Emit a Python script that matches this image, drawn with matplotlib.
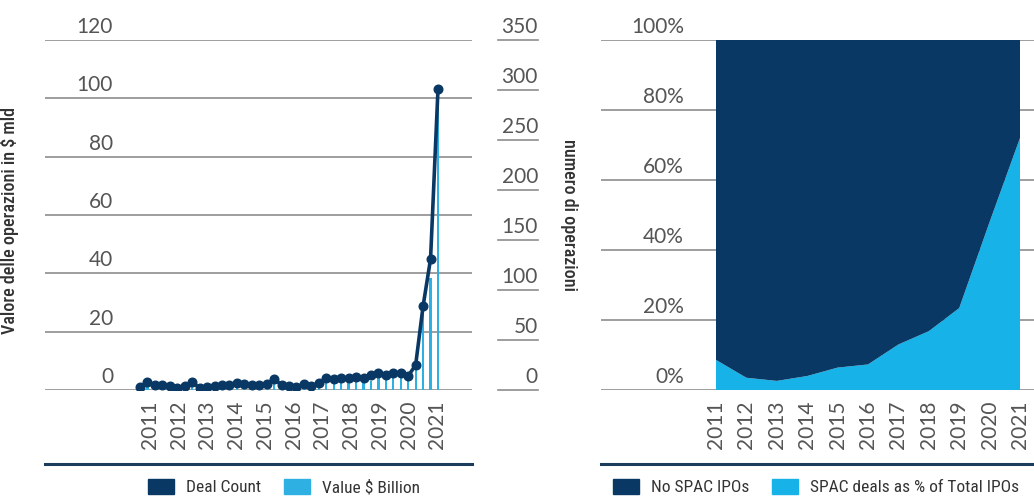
import numpy as np
import matplotlib
matplotlib.use('Agg')
import matplotlib.pyplot as plt
from matplotlib import font_manager as fm
from matplotlib.patches import Patch
from matplotlib.transforms import ScaledTranslation, blended_transform_factory

W, H, DPI = 1034, 499, 100

# ---------------- data ----------------
quarter_idx = np.arange(41)  # Q1 2011 .. Q1 2021
deal_count = [3, 8, 5, 5, 4, 2, 4, 8, 2, 3, 4, 5, 5, 7, 6, 5, 5, 6, 11, 5,
              4, 3, 6, 4, 7, 12, 11, 12, 12, 13, 12, 15, 17, 15, 17, 17,
              14, 25, 84, 131, 301]
value_bn = [0.5, 1.5, 0.5, 0.5, 0.3, 0.2, 0.5, 1.0, 0.3, 0.5, 0.8, 0.8,
            0.7, 1.0, 0.8, 1.0, 1.0, 1.0, 2.5, 1.0, 0.7, 0.5, 1.0, 0.8,
            1.5, 3.5, 3.0, 3.5, 3.5, 3.5, 3.5, 3.0, 4.0, 5.0, 4.5, 5.0,
            4.0, 9.0, 29.0, 38.5, 97.0]
year_labels = [str(y) for y in range(2011, 2022)]
left_ticks = [0, 20, 40, 60, 80, 100, 120]
right_ticks = [0, 50, 100, 150, 200, 250, 300, 350]

years = np.arange(2011, 2022)
spac_pct = [8.6, 3.5, 2.6, 4.0, 6.4, 7.3, 13.0, 16.8, 23.4, 48.0, 72.0]
no_spac_pct = [100 - v for v in spac_pct]
pct_ticks = [0, 20, 40, 60, 80, 100]

DARK = '#0a3864'
LIGHT = '#16b2e8'
BAR = '#2fb0e2'
GRID = '#8e8e8e'
TICK = '#555555'
LABEL = '#333333'
RULE = '#1c3c5c'

# ---------------- fonts ----------------
names = {f.name for f in fm.fontManager.ttflist}
cond_family, cond_stretch = None, 'normal'
for cand in ['Roboto Condensed', 'Open Sans Condensed', 'Liberation Sans Narrow',
             'Noto Sans Condensed', 'DejaVu Sans Condensed']:
    if cand in names:
        cond_family = cand
        break
if cond_family is None:
    for f in fm.fontManager.ttflist:
        if ('Condensed' in f.name or 'Narrow' in f.name):
            cond_family = f.name
            break
if cond_family is None:
    cond_family = 'Liberation Sans'

NUM_FAMILY = 'Lato' if 'Lato' in names else 'DejaVu Sans'
NUM_SIZE = 15
num_font = dict(family=NUM_FAMILY, weight='normal', size=NUM_SIZE, color=TICK)


def px(x):
    return x / W


def py(y):
    return 1 - y / H


fig = plt.figure(figsize=(W / DPI, H / DPI), dpi=DPI)

# ---------------- left chart ----------------
ax = fig.add_axes([px(45), py(390), (472 - 45) / W, 350 / H])
ax.set_xlim((45 - 140) / 7.45, (472 - 140) / 7.45)
ax.set_ylim(0, 120)
for s in ax.spines.values():
    s.set_visible(False)
ax.set_yticks([])
for t in left_ticks:
    ax.axhline(t, color=GRID, lw=1.2, zorder=0)

ax.bar(quarter_idx, value_bn, width=0.3, color=BAR, zorder=2)

ax2 = ax.twinx()
ax2.set_ylim(0, 350)
for s in ax2.spines.values():
    s.set_visible(False)
ax2.set_yticks([])
ax2.plot(quarter_idx, deal_count, color=DARK, lw=2.6, marker='o', ms=6.2,
         zorder=3, solid_joinstyle='round')

up = ScaledTranslation(0, 0.07, fig.dpi_scale_trans)
tr_left = blended_transform_factory(fig.transFigure, ax.transData)
for t in left_ticks:
    ax.text(px(113), t, str(t), transform=tr_left + up, ha='right',
            va='baseline', **num_font)
tr_right = blended_transform_factory(fig.transFigure, ax2.transData)
for t in right_ticks:
    ax2.text(px(538), t, str(t), transform=tr_right + up, ha='right',
             va='baseline', **num_font)
    ax2.plot([px(498), px(538)], [t, t], transform=tr_right, color=GRID,
             lw=1.2, clip_on=False)

ax.set_xticks(np.linspace(1.35, 39.9, len(year_labels)))
ax.set_xticklabels(year_labels, rotation=90, fontfamily=NUM_FAMILY,
                   fontsize=NUM_SIZE, color=TICK)
ax.tick_params(axis='x', length=0, pad=7.5)
ax2.tick_params(axis='x', length=0)

ylab_font = dict(family=cond_family, size=13, weight='medium', color=LABEL)
ax.set_ylabel('Valore delle operazioni in $ mld', **ylab_font)
ax.yaxis.set_label_coords(-(45 - 19) / 427, (390 - 221) / 350)
ax2.set_ylabel('numero di operazioni', rotation=270, va='center', **ylab_font)
ax2.yaxis.set_label_coords((569 - 45) / 427, (390 - 215) / 350)

rule_y = (390 - 464) / 350
ax.plot([0, 1], [rule_y, rule_y], transform=ax.transAxes, color=RULE,
        lw=2.2, clip_on=False)

# ---------------- right chart ----------------
ax3 = fig.add_axes([px(601), py(390), (1034 - 601) / W, 350 / H])
ax3.set_xlim(2011 + (601 - 716) / 30.4, 2011 + (1034 - 716) / 30.4)
ax3.set_ylim(0, 100)
for s in ax3.spines.values():
    s.set_visible(False)
ax3.set_yticks([])
for t in pct_ticks:
    ax3.axhline(t, color=GRID, lw=1.2, zorder=0)
ax3.stackplot(years, spac_pct, no_spac_pct, colors=[LIGHT, DARK], lw=0,
              zorder=2)
tr3 = blended_transform_factory(fig.transFigure, ax3.transData)
for t in pct_ticks:
    ax3.text(px(684), t, f'{t}%', transform=tr3 + up, ha='right',
             va='baseline', **num_font)
ax3.set_xticks(years)
ax3.set_xticklabels(year_labels, rotation=90, fontfamily=NUM_FAMILY,
                    fontsize=NUM_SIZE, color=TICK)
ax3.tick_params(axis='x', length=0, pad=7.5)
ax3.plot([0, 1], [rule_y, rule_y], transform=ax3.transAxes, color=RULE,
         lw=2.2, clip_on=False)

# ---------------- legends ----------------
leg_prop = fm.FontProperties(family=cond_family, size=12.5)
leg_kw = dict(loc='center', ncol=2, frameon=False, prop=leg_prop,
              handlelength=1.5, handleheight=1.0, handletextpad=0.7,
              columnspacing=1.3, borderpad=0, borderaxespad=0)
l1 = fig.legend(handles=[Patch(color=DARK, label='Deal Count'),
                         Patch(color=BAR, label='Value $ Billion')],
                bbox_to_anchor=(px(284), py(487)), **leg_kw)
l2 = fig.legend(handles=[Patch(color=DARK, label='No SPAC IPOs'),
                         Patch(color=LIGHT, label='SPAC deals as % of Total IPOs')],
                bbox_to_anchor=(px(816), py(487)), **leg_kw)
for lg in (l1, l2):
    for txt in lg.get_texts():
        txt.set_color(LABEL)

fig.savefig('out.png', dpi=DPI)
